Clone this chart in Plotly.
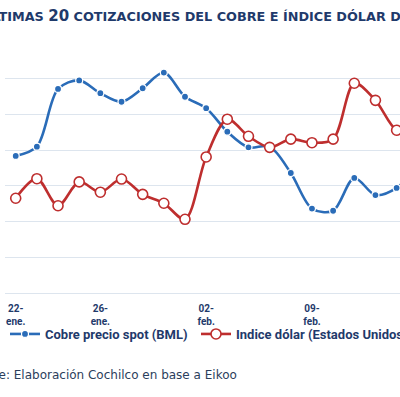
import plotly.graph_objects as go

# ---- data ----
idx = list(range(20))
cobre = [2.542, 2.555, 2.636, 2.648, 2.630, 2.618, 2.637, 2.659, 2.625, 2.609,
         2.576, 2.554, 2.555, 2.518, 2.468, 2.465, 2.511, 2.487, 2.497, 2.529]
dolar = [92.65, 93.20, 92.44, 93.11, 92.82, 93.19, 92.76, 92.51, 92.06, 93.81,
         94.87, 94.39, 94.08, 94.31, 94.21, 94.31, 95.88, 95.40, 94.56, 94.48]
tick_idx = [0, 4, 9, 14, 19]
tick_labels = ["22-<br>ene.", "26-<br>ene.", "02-<br>feb.", "09-<br>feb.", "16-<br>feb."]

NAVY = "#1F3A6B"
BLUE = "#2A6CB8"
RED = "#BE2E2E"
GRID = "#DDE5EE"

fig = go.Figure()
fig.add_trace(go.Scatter(
    x=idx, y=cobre, name="Cobre precio spot (BML)", yaxis="y", legend="legend",
    mode="lines+markers", line=dict(color=BLUE, width=2.6, shape="spline", smoothing=0.9),
    marker=dict(size=7, color=BLUE, line=dict(color="white", width=1.2)),
))
fig.add_trace(go.Scatter(
    x=idx, y=dolar, name="Indice dólar (Estados Unidos)", yaxis="y2", legend="legend2",
    mode="lines+markers", line=dict(color=RED, width=2.6, shape="spline", smoothing=0.9),
    marker=dict(size=10, color="white", line=dict(color=RED, width=1.6)),
))

fig.update_layout(
    width=400, height=397,
    margin=dict(l=5, r=0, t=43, b=104, autoexpand=False),
    paper_bgcolor="white", plot_bgcolor="white",
    showlegend=True,
    xaxis=dict(range=[-0.506, 18.16], tickmode="array", tickvals=tick_idx, ticktext=tick_labels,
               showgrid=False, zeroline=False, showline=True, linecolor=GRID, linewidth=1,
               ticks="", ticklabelstandoff=6,
               tickfont=dict(family="Roboto", size=10, color=NAVY, weight="bold")),
    yaxis=dict(range=[2.3495, 2.7005], tick0=2.35, dtick=0.05, showgrid=True, gridcolor=GRID,
               gridwidth=1, zeroline=False, showticklabels=False, ticks=""),
    yaxis2=dict(range=[89.99, 97.01], overlaying="y", side="right", showgrid=False,
                zeroline=False, showticklabels=False, ticks=""),
    legend=dict(xref="container", yref="container", x=5/400, y=1-334/397,
                xanchor="left", yanchor="middle", bgcolor="rgba(0,0,0,0)",
                font=dict(family="Roboto", size=13, color=NAVY, weight="bold")),
    legend2=dict(xref="container", yref="container", x=196/400, y=1-334/397,
                 xanchor="left", yanchor="middle", bgcolor="rgba(0,0,0,0)",
                 font=dict(family="Roboto", size=13, color=NAVY, weight="bold")),
)

fig.add_annotation(
    xref="paper", yref="paper", x=0, y=1, xshift=-25, yshift=38,
    xanchor="left", yanchor="top", showarrow=False,
    text="<b>ÚLTIMAS <span style='font-size:15px'>20</span> COTIZACIONES DEL COBRE E ÍNDICE DÓLAR DE ESTADOS UNIDOS</b>",
    font=dict(family="DejaVu Sans", size=12.8, color=NAVY),
)
fig.add_annotation(
    xref="paper", yref="paper", x=0, y=0, xshift=-42, yshift=-82,
    xanchor="left", yanchor="middle", showarrow=False,
    text="Fuente: Elaboración Cochilco en base a Eikoo",
    font=dict(family="DejaVu Sans", size=12, color="#2B3E5C"),
)

fig.write_html("out.html", post_script="document.body.style.margin='0';",
               config={"displayModeBar": False})
